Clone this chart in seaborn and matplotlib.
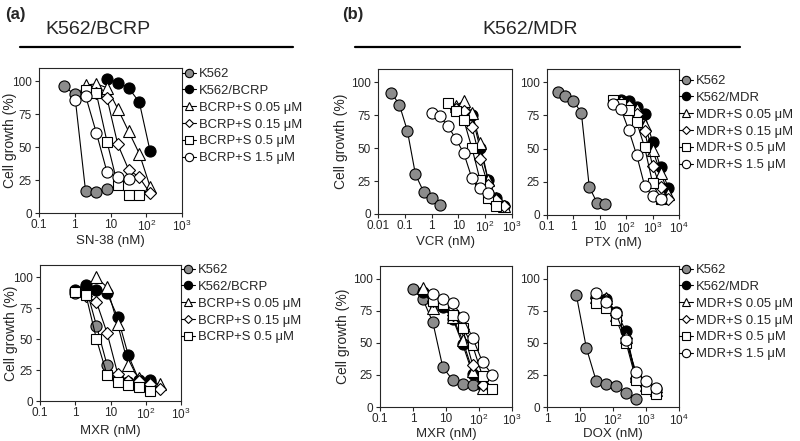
import matplotlib
matplotlib.use("Agg")
import matplotlib.pyplot as plt
import seaborn as sns
from matplotlib.lines import Line2D
from matplotlib.ticker import NullLocator

# ---- data: concentration (nM) and cell growth (%) ----
bcrp_labels = ['K562', 'K562/BCRP', 'BCRP+S 0.05 \u03bcM', 'BCRP+S 0.15 \u03bcM',
               'BCRP+S 0.5 \u03bcM', 'BCRP+S 1.5 \u03bcM']
mdr_labels = ['K562', 'K562/MDR', 'MDR+S 0.05 \u03bcM', 'MDR+S 0.15 \u03bcM',
              'MDR+S 0.5 \u03bcM', 'MDR+S 1.5 \u03bcM']

# (a) SN-38
sn38_x = [[0.5, 1, 2, 4, 8],
          [8, 16, 32, 64, 128],
          [2, 4, 8, 16, 32, 64, 128],
          [4, 8, 16, 32, 64, 128],
          [2, 4, 8, 16, 32, 64],
          [1, 2, 4, 8, 16, 32]]
sn38_y = [[96, 90, 17, 16, 18],
          [102, 99, 95, 84, 47],
          [97, 98, 95, 79, 62, 45, 20],
          [91, 87, 52, 33, 27, 15],
          [93, 91, 54, 21, 14, 14],
          [86, 89, 61, 31, 27, 26]]

# (a) MXR
mxra_x = [[1, 2, 4, 8, 16, 32, 64, 128],
          [1, 2, 4, 8, 16, 32, 64, 128],
          [4, 8, 16, 32, 64, 128, 256],
          [2, 4, 8, 16, 32, 64, 128, 256],
          [1, 2, 4, 8, 16, 32, 64, 128]]
mxra_y = [[87, 92, 61, 29, 18, 15, 15, 15],
          [90, 94, 90, 87, 68, 37, 17, 17],
          [100, 92, 62, 29, 19, 15, 14],
          [85, 80, 55, 22, 16, 16, 14, 10],
          [88, 86, 50, 21, 15, 13, 11, 8]]

# (b) VCR
vcr_x = [[0.03125, 0.0625, 0.125, 0.25, 0.5, 1, 2],
         [8, 16, 32, 64, 128, 256, 512],
         [8, 16, 32, 64, 128, 256, 512],
         [8, 16, 32, 64, 128, 256, 512],
         [4, 8, 16, 32, 64, 128, 256],
         [1, 2, 4, 8, 16, 32, 64, 128]]
vcr_y = [[92, 83, 63, 30, 17, 12, 7],
         [80, 76, 75, 50, 26, 12, 6],
         [82, 86, 77, 54, 26, 12, 6],
         [80, 78, 66, 42, 22, 11, 6],
         [84, 78, 71, 50, 26, 12, 6],
         [77, 74, 67, 57, 46, 27, 20, 16]]

# (b) PTX
ptx_x = [[0.25, 0.5, 1, 2, 4, 8, 16],
         [62.5, 125, 250, 500, 1000, 2000, 4000],
         [62.5, 125, 250, 500, 1000, 2000, 4000],
         [62.5, 125, 250, 500, 1000, 2000, 4000],
         [31.25, 62.5, 125, 250, 500, 1000, 2000],
         [31.25, 62.5, 125, 250, 500, 1000, 2000]]
ptx_y = [[93, 90, 86, 77, 21, 9, 8],
         [87, 86, 81, 76, 55, 36, 20],
         [86, 84, 80, 68, 49, 32, 16],
         [85, 82, 76, 63, 37, 21, 12],
         [87, 84, 79, 70, 51, 24, 12],
         [84, 80, 64, 45, 22, 14, 12]]

# (b) MXR
mxrb_x = [[1, 2, 4, 8, 16, 32, 64],
          [2, 4, 8, 16, 32, 64, 128],
          [2, 4, 8, 16, 32, 64, 128],
          [4, 8, 16, 32, 64, 128],
          [4, 8, 16, 32, 64, 128, 256],
          [4, 8, 16, 32, 64, 128, 256]]
mxrb_y = [[92, 84, 66, 31, 21, 18, 17],
          [90, 82, 78, 69, 49, 26, 16],
          [93, 77, 80, 70, 52, 28, 15],
          [83, 80, 72, 61, 33, 17],
          [83, 80, 72, 62, 48, 24, 14],
          [88, 84, 81, 70, 54, 35, 25]]

# (b) DOX
dox_x = [[7.8, 15.6, 31.25, 62.5, 125, 250, 500],
         [31.25, 62.5, 125, 250, 500, 1000, 2000],
         [31.25, 62.5, 125, 250, 500, 1000, 2000],
         [31.25, 62.5, 125, 250, 500, 1000, 2000],
         [31.25, 62.5, 125, 250, 500, 1000, 2000],
         [31.25, 62.5, 125, 250, 500, 1000, 2000]]
dox_y = [[87, 46, 20, 18, 16, 11, 6],
         [86, 84, 74, 59, 22, 17, 14],
         [86, 85, 72, 55, 24, 17, 13],
         [85, 83, 72, 54, 23, 16, 12],
         [81, 77, 68, 50, 21, 14, 10],
         [89, 82, 73, 52, 27, 20, 15]]

# ---- styling ----
sns.set_style('ticks')
plt.rcParams['font.family'] = ['Liberation Sans', 'DejaVu Sans']
plt.rcParams['mathtext.default'] = 'regular'

markers = ['o', 'o', '^', 'D', 's', 'o']
faces = ['#8c8c8c', 'black', 'white', 'white', 'white', 'white']
msizes = [8, 8, 8, 5.8, 7.5, 8]

W, H = 800, 441


def panel(box, xs, ys, labels, xlim, ticks, ticklabels, xlabel,
          ylab_off=None, xlab_off=22, leg_off=None):
    l, t, r, b = box
    ax = fig.add_axes([l / W, 1 - b / H, (r - l) / W, (b - t) / H])
    for i, (x, y, lab) in enumerate(zip(xs, ys, labels)):
        sns.lineplot(x=x, y=y, ax=ax, color='black', lw=0.8,
                     marker=markers[i], markersize=msizes[i],
                     markerfacecolor=faces[i], markeredgecolor='black',
                     markeredgewidth=0.8, label=lab)
    ax.set_xscale('log')
    ax.set_xlim(xlim)
    ax.set_ylim(0, 110)
    ax.set_xticks(ticks, ticklabels)
    ax.xaxis.set_minor_locator(NullLocator())
    ax.set_yticks([0, 25, 50, 75, 100])
    ax.tick_params(direction='out', length=3, width=0.8, labelsize=8.5, pad=2)
    ax.tick_params(axis='x', pad=1.5)
    for s in ax.spines.values():
        s.set_linewidth(0.8)
    ax.set_xlabel(xlabel, fontsize=9.5)
    ax.xaxis.set_label_coords(0.5, -xlab_off / (b - t))
    if ylab_off is not None:
        ax.set_ylabel('Cell growth (%)', fontsize=10)
        ax.yaxis.set_label_coords(-ylab_off / (r - l), 0.5)
    else:
        ax.set_ylabel('')
    if leg_off is not None:
        ax.legend(loc='upper left', bbox_to_anchor=(1.0, 1 - leg_off / (b - t)),
                  frameon=False, fontsize=9.4, handlelength=1.1,
                  handletextpad=0.2, labelspacing=0.36, borderaxespad=0,
                  borderpad=0, markerscale=0.75)
    else:
        ax.get_legend().remove()
    return ax


fig = plt.figure(figsize=(8, 4.41), dpi=100)

t3 = ['0.1', '1', '10', '$10^2$', '$10^3$']
panel((39, 68, 182, 213), sn38_x, sn38_y, bcrp_labels,
      (0.1, 1000), [0.1, 1, 10, 100, 1000], t3, 'SN-38 (nM)',
      ylab_off=22, leg_off=0)
panel((40, 265, 181, 401), mxra_x, mxra_y, bcrp_labels[:5],
      (0.1, 1000), [0.1, 1, 10, 100, 1000], t3, 'MXR (nM)',
      ylab_off=22, xlab_off=24, leg_off=-1)
panel((378, 69, 512, 214), vcr_x, vcr_y, mdr_labels,
      (0.01, 1000), [0.01, 0.1, 1, 10, 100, 1000], ['0.01'] + t3, 'VCR (nM)',
      ylab_off=30)
panel((547, 69, 679, 215), ptx_x, ptx_y, mdr_labels,
      (0.1, 10000), [0.1, 1, 10, 100, 1000, 10000], t3 + ['$10^4$'], 'PTX (nM)',
      leg_off=6)
panel((380, 266, 512, 407), mxrb_x, mxrb_y, mdr_labels,
      (0.1, 1000), [0.1, 1, 10, 100, 1000], t3, 'MXR (nM)',
      ylab_off=30, xlab_off=21)
panel((547, 266, 679, 407), dox_x, dox_y, mdr_labels,
      (1, 10000), [1, 10, 100, 1000, 10000], ['1', '10', '$10^2$', '$10^3$', '$10^4$'],
      'DOX (nM)', xlab_off=21, leg_off=-2)

# ---- headers ----
fig.text(0.006, 0.985, '(a)', fontsize=12, fontweight='bold', va='top')
fig.text(0.428, 0.985, '(b)', fontsize=12, fontweight='bold', va='top')
fig.text(0.122, 0.932, 'K562/BCRP', fontsize=14, ha='center', va='center')
fig.text(0.663, 0.932, 'K562/MDR', fontsize=14, ha='center', va='center')
fig.add_artist(Line2D([0.025, 0.366], [0.893, 0.893], color='black', lw=1.6))
fig.add_artist(Line2D([0.444, 0.925], [0.893, 0.893], color='black', lw=1.6))

fig.savefig('out.png', dpi=100)
